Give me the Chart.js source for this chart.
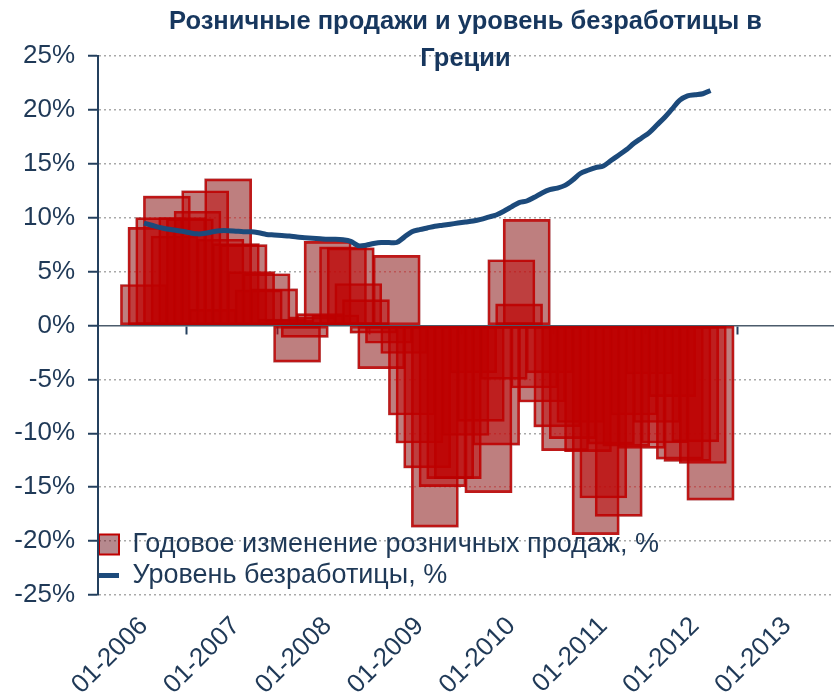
<!DOCTYPE html>
<html>
<head>
<meta charset="utf-8">
<script src="https://cdn.jsdelivr.net/npm/chart.js@4.4.0/dist/chart.umd.min.js"></script>
<style>
  html, body { margin:0; padding:0; background:#fff; }
  .wrap { position:relative; width:840px; height:700px; }
  .title {
    position:absolute; left:98px; width:735px; top:2px;
    text-align:center; color:#17375e;
    font:bold 25.5px 'Liberation Sans', Arial, sans-serif; line-height:37px;
  }
</style>
</head>
<body>
<div class="wrap">
  <canvas id="chart" width="840" height="700"></canvas>
  <div class="title">Розничные продажи и уровень безработицы в<br>Греции</div>
</div>
<script>
(() => {
  const FONT = "'Liberation Sans', Arial, sans-serif";
  const TEXT = '#1f3957';
  const AXIS = '#24405e';
  const LINE = '#1c4a7b';

  // monthly axis 07-2005 .. 07-2013
  const months = [];
  for (let k = 0; k < 97; k++) {
    const m = (6 + k) % 12 + 1;
    const y = 2005 + Math.floor((6 + k) / 12);
    months.push(String(m).padStart(2, '0') + '-' + y);
  }
  const FIRST = months.indexOf('01-2006');

  // retail sales, % y/y, from 01-2006
  const retail2006 = [3.8, 9.1, 10.0, 12.0, 8.3, 10.0, 9.9, 10.6, 12.5, 1.5, 8.0, 13.6];
  const retail2007 = [7.6, 7.5, 5.0, 3.3, 4.8, 3.4, 0.6, 0.5, -3.4, -1.1, 0.8, 1.1];
  const retail2008 = [7.8, 1.0, 7.3, 7.2, 3.9, 2.4, -0.7, -4.0, -1.65, 6.5, -2.6, -8.3];
  const retail2009 = [-10.9, -13.2, -18.7, -14.95, -14.2, -14.2, -10.2, -4.4, -8.9, -15.5, -11.1, -5.0];
  const retail2010 = [6.1, 2.0, 9.85, -5.8, -7.1, -4.4, -9.4, -11.6, -10.5, -9.0, -11.7, -19.4];
  const retail2011 = [-16.0, -11.0, -17.7, -11.2, -8.3, -11.4, -4.5, -9.0, -10.9, -6.6, -12.4, -12.6];
  const retail2012 = [-10.8, -12.8, -16.2];

  // unemployment rate, %, from 01-2006
  const unemp2006 = [9.5, 9.3, 9.1, 8.95, 8.85, 8.75, 8.6, 8.5, 8.55, 8.7, 8.8, 8.8];
  const unemp2007 = [8.75, 8.7, 8.7, 8.6, 8.45, 8.4, 8.35, 8.3, 8.2, 8.15, 8.1, 8.05];
  const unemp2008 = [8.0, 8.0, 7.95, 7.8, 7.4, 7.45, 7.6, 7.7, 7.7, 7.7, 8.2, 8.7];
  const unemp2009 = [8.9, 9.05, 9.2, 9.3, 9.4, 9.5, 9.6, 9.7, 9.85, 10.05, 10.25, 10.6];
  const unemp2010 = [11.0, 11.4, 11.55, 11.9, 12.3, 12.6, 12.75, 13.0, 13.5, 14.1, 14.4, 14.65];
  const unemp2011 = [14.8, 15.3, 15.8, 16.3, 16.9, 17.4, 17.9, 18.6, 19.3, 20.1, 20.9, 21.3];
  const unemp2012 = [21.4, 21.5, 21.8];

  const retail = [].concat(retail2006, retail2007, retail2008, retail2009, retail2010, retail2011, retail2012);
  const unemp = [].concat(unemp2006, unemp2007, unemp2008, unemp2009, unemp2010, unemp2011, unemp2012);

  const onAxis = arr => months.map((_, i) => {
    const v = arr[i - FIRST];
    return v === undefined ? null : v;
  });

  const yTicks = [-25, -20, -15, -10, -5, 0, 5, 10, 15, 20, 25];

  // white canvas so the blend pass has something opaque underneath
  const whiteBg = {
    id: 'whiteBg',
    beforeDraw(chart) {
      const {ctx, width, height} = chart;
      ctx.save();
      ctx.fillStyle = '#fff';
      ctx.fillRect(0, 0, width, height);
      ctx.restore();
    }
  };

  // per-dataset composite mode (used for the tint pass over the red bars)
  const blendPass = {
    id: 'blendPass',
    beforeDatasetDraw(chart, args) {
      const ds = chart.data.datasets[args.index];
      if (ds.blend) {
        chart.ctx.save();
        chart.ctx.globalCompositeOperation = ds.blend;
      }
    },
    afterDatasetDraw(chart, args) {
      if (chart.data.datasets[args.index].blend) chart.ctx.restore();
    }
  };

  // keep the zero-line axis and the in-plot legend aligned with the plot area
  const layoutFix = {
    id: 'layoutFix',
    afterLayout(chart) {
      const area = chart.chartArea;
      const zero = chart.scales.x0;
      zero.left = area.left;
      zero.right = area.right;
      zero.width = area.right - area.left;
      zero.configure();
      const lg = chart.legend;
      if (lg) {
        lg.top = area.top;
        lg.bottom = area.bottom - 2;
        lg.left = area.left - 3;
      }
    }
  };

  new Chart(document.getElementById('chart'), {
    type: 'bar',
    data: {
      labels: months,
      datasets: [
        {
          label: 'Годовое изменение розничных продаж, %',
          data: onAxis(retail),
          backgroundColor: 'rgba(205,0,0,0.5)',
          borderColor: 'rgba(185,0,0,0.9)',
          borderWidth: 2,
          borderSkipped: false,
          barThickness: 47,
          stack: 'retail',
          order: 3
        },
        {
          label: 'tint',
          data: onAxis(retail),
          backgroundColor: 'rgb(190,138,144)',
          borderWidth: 0,
          barThickness: 47,
          stack: 'retail',
          order: 2,
          blend: 'darken'
        },
        {
          type: 'line',
          label: 'Уровень безработицы, %',
          data: onAxis(unemp),
          borderColor: LINE,
          borderWidth: 5,
          pointRadius: 0,
          tension: 0.3,
          order: 1
        }
      ]
    },
    options: {
      responsive: false,
      animation: false,
      layout: { padding: { top: 56, right: 7, bottom: 0, left: 0 } },
      plugins: {
        tooltip: { enabled: false },
        legend: {
          position: 'chartArea',
          align: 'end',
          labels: {
            usePointStyle: true,
            pointStyleWidth: 20,
            boxHeight: 20,
            padding: 4,
            color: TEXT,
            font: { size: 27, family: FONT },
            filter: item => item.datasetIndex !== 1,
            sort: (a, b) => a.datasetIndex - b.datasetIndex,
            generateLabels(chart) {
              const items = Chart.defaults.plugins.legend.labels.generateLabels(chart);
              items.forEach(it => {
                if (it.datasetIndex === 0) {
                  it.pointStyle = 'rect';
                  it.fillStyle = 'rgba(110,20,30,0.5)';
                  it.strokeStyle = '#c00000';
                  it.lineWidth = 2;
                } else if (it.datasetIndex === 2) {
                  it.pointStyle = 'line';
                  it.strokeStyle = LINE;
                  it.lineWidth = 5;
                }
              });
              return items;
            }
          }
        }
      },
      scales: {
        x: {
          type: 'category',
          position: 'bottom',
          offset: false,
          grid: { display: false },
          border: { display: false },
          ticks: {
            autoSkip: false,
            minRotation: 45,
            maxRotation: 45,
            padding: 8,
            color: TEXT,
            font: { size: 26, family: FONT },
            callback(v) {
              const l = this.getLabelForValue(v);
              return l.startsWith('01-') ? l : '';
            }
          },
          afterFit(scale) {
            scale.height = 105;
            scale.paddingLeft = 0;
            scale.paddingRight = 0;
          }
        },
        // zero line with yearly tick marks
        x0: {
          type: 'category',
          labels: months,
          position: { y: 0 },
          offset: false,
          ticks: { display: false },
          grid: {
            drawOnChartArea: false,
            color: 'transparent',
            tickLength: 8,
            tickWidth: 2,
            tickColor: c => (c.index > 0 && c.index < 96 && c.index % 12 === 0) ? AXIS : 'transparent'
          },
          border: { color: '#4b5b6b', width: 1.5 },
          afterFit(scale) {
            scale.paddingLeft = 0;
            scale.paddingRight = 0;
          }
        },
        y: {
          min: -25,
          max: 25,
          stacked: false,
          afterBuildTicks(scale) { scale.ticks = yTicks.map(v => ({ value: v })); },
          ticks: {
            color: TEXT,
            padding: 13,
            font: { size: 26, family: FONT },
            callback: v => v + '%'
          },
          grid: {
            color: c => c.tick && c.tick.value === 0 ? 'transparent' : '#a9a9a9',
            lineWidth: 1.5,
            tickLength: 10,
            tickWidth: 2,
            tickColor: AXIS
          },
          border: { color: AXIS, width: 2, dash: [2, 3] },
          afterFit(scale) { scale.width = 98; }
        }
      }
    },
    plugins: [whiteBg, blendPass, layoutFix]
  });
})();
</script>
</body>
</html>
